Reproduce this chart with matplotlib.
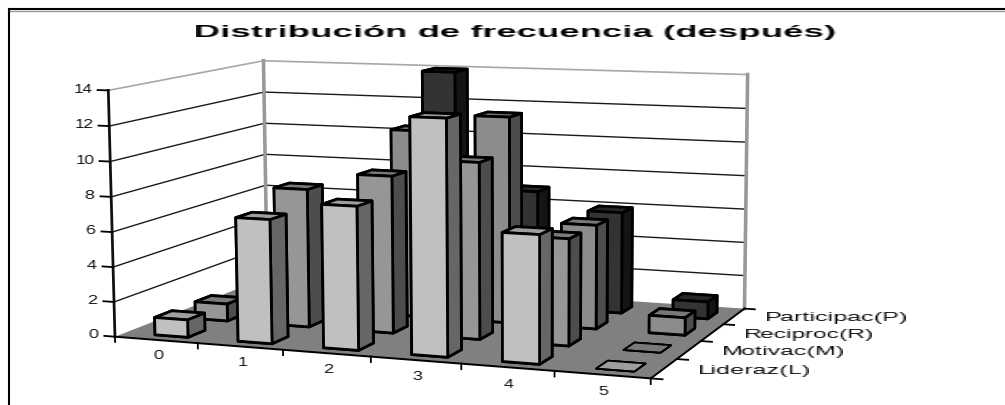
import numpy as np
import matplotlib
matplotlib.use('Agg')
import matplotlib.pyplot as plt
from matplotlib.lines import Line2D
from mpl_toolkits.mplot3d import proj3d

# Frequency counts per score, one list per dimension
scores = ['0', '1', '2', '3', '4', '5']
series_names = ['Lideraz(L)', 'Motivac(M)', 'Reciproc(R)', 'Participac(P)']
liderazgo = [1, 7, 8, 13, 7, 0]
motivacion = [1, 8, 9, 10, 6, 0]
reciprocidad = [0, 3, 11, 12, 6, 1]
participacion = [0, 3, 14, 7, 6, 1]
z_ticks = [0, 2, 4, 6, 8, 10, 12, 14]
title = 'Distribución de frecuencia (después)'

W, H = 1005, 405
plt.rcParams['font.family'] = ['Liberation Sans', 'DejaVu Sans']


def widen(factor=None, target=None, anchor='left'):
    """Agg filter that stretches a rendered text horizontally."""
    def apply(img, dpi):
        h, w = img.shape[:2]
        new_w = int(round(target if target else w * factor))
        src = (np.arange(new_w) + 0.5) * w / new_w - 0.5
        i0 = np.clip(np.floor(src).astype(int), 0, w - 1)
        i1 = np.clip(i0 + 1, 0, w - 1)
        t = np.clip(src - i0, 0, 1)[None, :, None]
        out = img[:, i0] * (1 - t) + img[:, i1] * t
        ox = {'left': 0, 'center': -(new_w - w) // 2, 'right': -(new_w - w)}[anchor]
        return out, ox, 0
    return apply


fig = plt.figure(figsize=(W / 100, H / 100), dpi=100, facecolor='white')
size = 669.85
cx, cy = 428.1, 212.25
ax = fig.add_axes([(cx - size / 2) / W, (H - cy - size / 2) / H, size / W, size / H],
                  projection='3d', computed_zorder=False)
ax.patch.set_alpha(0)
ax.set_xlim(0, len(scores), view_margin=0)
ax.set_ylim(0, len(series_names), view_margin=0)
ax.set_zlim(0, 14, view_margin=0)
ax.view_init(8.448, -68.585, 0.356)
ax.set_proj_type('persp', focal_length=0.643)
ax.set_box_aspect((1, 0.635, 0.445))
ax.grid(False)
ax.apply_aspect()
proj = ax.get_proj()


def label(x, y, z, s, **kw):
    """Write a label at a 3D location, projected onto the axes plane."""
    px, py, _ = proj3d.proj_transform(x, y, z, proj)
    ax.text2D(px, py, s, transform=ax.transData, zorder=100, va='center', **kw)


# Walls and floor
ax.xaxis.set_pane_color('white')
ax.yaxis.set_pane_color('white')
ax.zaxis.set_pane_color('#808080')
for a in (ax.xaxis, ax.yaxis, ax.zaxis):
    a.pane.set_edgecolor('none')
    a.line.set_color('none')
ax.set_xticks([])
ax.set_yticks([])
ax.set_zticks([])

nx, ny = len(scores), len(series_names)
for z in z_ticks[1:-1]:
    ax.plot([0, 0, nx], [0, ny, ny], [z, z, z], color='#1a1a1a', lw=1.0, zorder=1)
ax.plot([0, 0, nx], [0, ny, ny], [14, 14, 14], color='#a8a8a8', lw=1.2, zorder=1)
ax.plot([0, 0], [ny, ny], [0, 14], color='#999999', lw=2.6, zorder=1)
ax.plot([nx, nx], [ny, ny], [0, 14], color='#999999', lw=2.6, zorder=1)

# Axis lines and tick marks
ax.plot([0, 0], [0, 0], [0, 14], color='#111111', lw=2.0, zorder=2)
ax.plot([0, nx], [0, 0], [0, 0], color='black', lw=1.4, zorder=2)
ax.plot([nx, nx], [0, ny], [0, 0], color='black', lw=1.4, zorder=2)
for z in z_ticks:
    ax.plot([-0.13, 0], [0, 0], [z, z], color='black', lw=1.3, zorder=2)
for i in range(nx + 1):
    ax.plot([i, i], [0, 0], [-0.3, 0], color='black', lw=1.3, zorder=2)
for j in range(ny + 1):
    ax.plot([nx, nx + 0.12], [j, j], [0, 0], color='black', lw=1.3, zorder=2)

# Bars: painted back row first, left to right within a row
rows = [liderazgo, motivacion, reciprocidad, participacion]
front_colors = ['#c0c0c0', '#969696', '#8c8c8c', '#333333']
side_colors = ['#666666', '#4d4d4d', '#4d4d4d', '#141414']
top_colors = ['#9e9e9e', '#7a7a7a', '#787878', '#262626']
bar_w, bar_d = 0.40, 0.42
order = 10
for r in reversed(range(ny)):
    for c in range(nx):
        value = rows[r][c]
        # Empty cells show only their footprint, with a lighter outline
        face = [top_colors[r], top_colors[r], front_colors[r],
                front_colors[r], side_colors[r], side_colors[r]]
        ax.bar3d(c + 0.36, r + 0.25, 0, bar_w, bar_d, value, color=face, shade=False,
                 edgecolor='black', linewidth=2.0 if value else 1.3, zorder=order)
        order += 1

# Axis labels
for i, s in enumerate(scores):
    label(i + 0.5, 0.05, -1.0, s, ha='center', fontsize=9,
          agg_filter=widen(factor=1.5, anchor='center'))
targets = [109, 119, 126, 139]
for r, s in enumerate(series_names):
    label(nx + 0.36, r + 0.5, 0, s, ha='left', fontsize=9.5,
          agg_filter=widen(target=targets[r]))
for z in z_ticks:
    label(-0.2, 0, z, str(z), ha='right', fontsize=9,
          agg_filter=widen(factor=1.4, anchor='right'))

fig.text(195 / W, 1 - 33 / H, title, ha='left', va='center', fontsize=12.5, fontweight='bold',
         agg_filter=widen(target=640))

# Outer frame: top and left edges only
fig.add_artist(Line2D([9 / W, 1], [1 - 9 / H, 1 - 9 / H], color='black', lw=1.5))
fig.add_artist(Line2D([9 / W, 1], [1 - 10.5 / H, 1 - 10.5 / H], color='#999999', lw=1))
fig.add_artist(Line2D([9 / W, 9 / W], [0, 1 - 9 / H], color='black', lw=1.5))

fig.savefig('out.png', dpi=100)
